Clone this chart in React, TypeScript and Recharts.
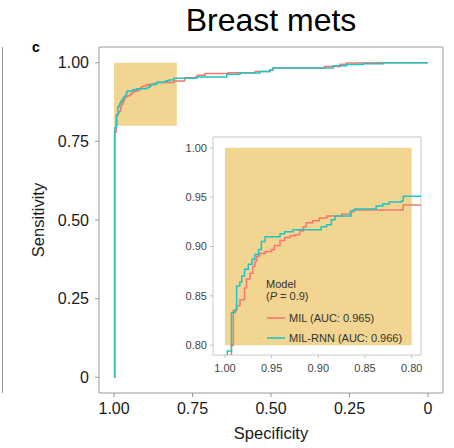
import React from 'react';
import { LineChart, Line, XAxis, YAxis, ReferenceArea, Legend } from 'recharts';

const TITLE = 'Breast mets';
const PANEL_LETTER = 'c';
const X_LABEL = 'Specificity';
const Y_LABEL = 'Sensitivity';
const LEGEND_TITLE = 'Model';
const P_VALUE = '0.9';

const MAIN_TICKS = [1, 0.75, 0.5, 0.25, 0];
const INSET_TICKS = [1, 0.95, 0.9, 0.85, 0.8];
const MAIN_X_DOMAIN = [-0.048, 1.048];
const MAIN_Y_DOMAIN = [-0.05, 1.05];
const INSET_X_DOMAIN = [0.79, 1.0128];
const INSET_Y_DOMAIN = [0.79, 1.011];
const ZOOM_BOX = { x1: 0.8, x2: 1, y1: 0.8, y2: 1 };

const MIL_NAME = 'MIL (AUC: 0.965)';
const RNN_NAME = 'MIL-RNN (AUC: 0.966)';

const milSpec = [1.0, 0.9985, 0.993, 0.991, 0.9875, 0.984, 0.979, 0.977, 0.973, 0.97, 0.968, 0.966, 0.963, 0.957, 0.95, 0.947, 0.941, 0.936, 0.93, 0.925, 0.92, 0.916, 0.913, 0.906, 0.899, 0.891, 0.875, 0.866, 0.863, 0.809, 0.775, 0.735, 0.71, 0.636, 0.55, 0.503, 0.493, 0.33, 0.28, 0.26, 0.2, 0.0];
const milSens = [0.0, 0.78, 0.8, 0.835, 0.84, 0.846, 0.858, 0.867, 0.873, 0.88, 0.885, 0.89, 0.893, 0.895, 0.897, 0.901, 0.906, 0.909, 0.911, 0.912, 0.916, 0.92, 0.924, 0.926, 0.929, 0.931, 0.933, 0.935, 0.937, 0.942, 0.952, 0.96, 0.966, 0.968, 0.972, 0.978, 0.983, 0.988, 0.995, 0.999, 1.0, 1.0];

const rnnSpec = [1.0, 0.9975, 0.993, 0.993, 0.989, 0.9875, 0.984, 0.982, 0.979, 0.975, 0.971, 0.968, 0.964, 0.961, 0.957, 0.941, 0.936, 0.927, 0.897, 0.891, 0.886, 0.882, 0.865, 0.861, 0.838, 0.831, 0.824, 0.811, 0.809, 0.74, 0.641, 0.599, 0.535, 0.503, 0.493, 0.302, 0.259, 0.206, 0.142, 0.0];
const rnnSens = [0.0, 0.794, 0.809, 0.833, 0.836, 0.86, 0.864, 0.87, 0.877, 0.882, 0.887, 0.892, 0.897, 0.905, 0.91, 0.913, 0.915, 0.917, 0.92, 0.922, 0.927, 0.931, 0.936, 0.938, 0.941, 0.943, 0.945, 0.946, 0.951, 0.955, 0.963, 0.967, 0.972, 0.978, 0.983, 0.99, 0.994, 0.997, 1.0, 1.0];

const MIL_COLOR = '#F8766D';
const RNN_COLOR = '#1FC4C4';
const ZOOM_FILL = '#F2D590';
const FONT = '"Liberation Sans", Arial, Helvetica, sans-serif';

const milData = milSpec.map((s, i) => ({ spec: s, sens: milSens[i] }));
const rnnData = rnnSpec.map((s, i) => ({ spec: s, sens: rnnSens[i] }));

const fmtMain = (v: number) => (v === 0 ? '0' : v.toFixed(2));
const fmtInset = (v: number) => v.toFixed(2);

const renderLegend = (props: any) => {
  const items = props.payload || [];
  return (
    <svg width={170} height={74} style={{ display: 'block', overflow: 'visible' }}>
      <text x={0} y={12} fontSize={11} fill="#333" fontFamily={FONT}>{LEGEND_TITLE}</text>
      <text x={0} y={24} fontSize={11} fill="#333" fontFamily={FONT}>
        (<tspan fontStyle="italic">P</tspan> = {P_VALUE})
      </text>
      {items.map((it: any, i: number) => (
        <g key={i}>
          <line x1={1} x2={19} y1={42 + 20 * i} y2={42 + 20 * i} stroke={it.color} strokeWidth={1.6} />
          <text x={23} y={46 + 20 * i} fontSize={11} fill="#333" fontFamily={FONT}>{it.value}</text>
        </g>
      ))}
    </svg>
  );
};

export default function App() {
  return (
    <div style={{ position: 'absolute', left: 0, top: 0, width: 454, height: 448, background: '#fff', fontFamily: FONT }}>
      <div style={{ position: 'absolute', left: 0, top: 0 }}>
        <LineChart width={454} height={448} margin={{ top: 47, right: 11, bottom: 25, left: 59 }}>
          <XAxis
            type="number"
            dataKey="spec"
            domain={MAIN_X_DOMAIN}
            reversed
            allowDataOverflow
            ticks={MAIN_TICKS}
            interval={0}
            tickFormatter={fmtMain}
            axisLine={false}
            tickLine={{ stroke: '#999' }}
            tickSize={4}
            tickMargin={6}
            height={30}
            tick={{ fill: '#1a1a1a', fontSize: 16, fontFamily: FONT }}
          />
          <YAxis
            type="number"
            dataKey="sens"
            domain={MAIN_Y_DOMAIN}
            allowDataOverflow
            ticks={MAIN_TICKS}
            interval={0}
            tickFormatter={fmtMain}
            axisLine={false}
            tickLine={{ stroke: '#999' }}
            tickSize={4}
            tickMargin={6}
            width={40}
            tick={{ fill: '#1a1a1a', fontSize: 16, fontFamily: FONT }}
          />
          <ReferenceArea
            x1={MAIN_X_DOMAIN[0]}
            x2={MAIN_X_DOMAIN[1]}
            y1={MAIN_Y_DOMAIN[0]}
            y2={MAIN_Y_DOMAIN[1]}
            fill="none"
            stroke="#999"
            strokeWidth={1}
          />
          <ReferenceArea x1={ZOOM_BOX.x1} x2={ZOOM_BOX.x2} y1={ZOOM_BOX.y1} y2={ZOOM_BOX.y2} fill={ZOOM_FILL} fillOpacity={1} stroke="none" />
          <Line data={milData} dataKey="sens" name={MIL_NAME} type="stepAfter" stroke={MIL_COLOR} strokeWidth={1.5} dot={false} isAnimationActive={false} />
          <Line data={rnnData} dataKey="sens" name={RNN_NAME} type="stepAfter" stroke={RNN_COLOR} strokeWidth={1.5} dot={false} isAnimationActive={false} />
        </LineChart>
      </div>
      <div style={{ position: 'absolute', left: 170, top: 130 }}>
        <LineChart width={260} height={250} margin={{ top: 7, right: 9, bottom: 5, left: 13 }}>
          <XAxis
            type="number"
            dataKey="spec"
            domain={INSET_X_DOMAIN}
            reversed
            allowDataOverflow
            ticks={INSET_TICKS}
            interval={0}
            tickFormatter={fmtInset}
            axisLine={false}
            tickLine={{ stroke: '#bbb' }}
            tickSize={3}
            tickMargin={6}
            height={20}
            tick={{ fill: '#444', fontSize: 11, fontFamily: FONT }}
          />
          <YAxis
            type="number"
            dataKey="sens"
            domain={INSET_Y_DOMAIN}
            allowDataOverflow
            ticks={INSET_TICKS}
            interval={0}
            tickFormatter={fmtInset}
            axisLine={false}
            tickLine={{ stroke: '#bbb' }}
            tickSize={3}
            tickMargin={3}
            width={30}
            tick={{ fill: '#444', fontSize: 11, fontFamily: FONT }}
          />
          <ReferenceArea
            x1={INSET_X_DOMAIN[0]}
            x2={INSET_X_DOMAIN[1]}
            y1={INSET_Y_DOMAIN[0]}
            y2={INSET_Y_DOMAIN[1]}
            fill="#fff"
            stroke="#c8c8c8"
            strokeWidth={1}
          />
          <ReferenceArea x1={ZOOM_BOX.x1} x2={ZOOM_BOX.x2} y1={ZOOM_BOX.y1} y2={ZOOM_BOX.y2} fill={ZOOM_FILL} fillOpacity={1} stroke="none" />
          <Line data={milData} dataKey="sens" name={MIL_NAME} type="stepAfter" stroke={MIL_COLOR} strokeWidth={1.5} dot={false} isAnimationActive={false} />
          <Line data={rnnData} dataKey="sens" name={RNN_NAME} type="stepAfter" stroke={RNN_COLOR} strokeWidth={1.5} dot={false} isAnimationActive={false} />
          <Legend
            layout="vertical"
            align="center"
            verticalAlign="middle"
            content={renderLegend}
            wrapperStyle={{ left: 96, top: 146, width: 170, height: 74 }}
          />
        </LineChart>
      </div>
      <svg width={454} height={448} style={{ position: 'absolute', left: 0, top: 0, pointerEvents: 'none' }}>
        <text x={271} y={31} textAnchor="middle" fontSize={32} fill="#000" fontFamily={FONT}>{TITLE}</text>
        <text x={32} y={52} fontSize={14} fontWeight="bold" fill="#000" fontFamily={FONT}>{PANEL_LETTER}</text>
        <line x1={2.5} x2={2.5} y1={47} y2={393} stroke="#999" strokeWidth={1} />
        <text x={271} y={439} textAnchor="middle" fontSize={16.5} fill="#1a1a1a" fontFamily={FONT}>{X_LABEL}</text>
        <text x={44} y={220} textAnchor="middle" fontSize={16.5} fill="#1a1a1a" fontFamily={FONT} transform="rotate(-90 44 220)">{Y_LABEL}</text>
      </svg>
    </div>
  );
}
